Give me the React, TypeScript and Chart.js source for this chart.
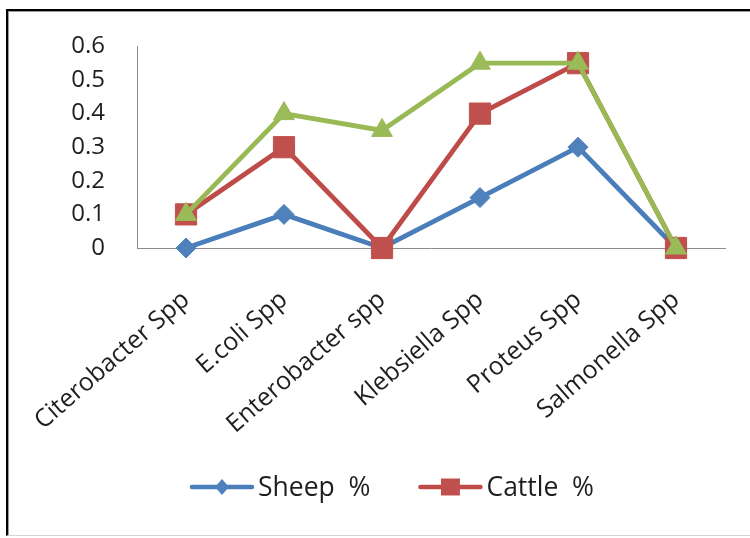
import React, { useEffect, useRef } from 'react';
import { Chart, registerables } from 'chart.js';

Chart.register(...registerables);

const categories = ['Citerobacter Spp', 'E.coli Spp', 'Enterobacter spp', 'Klebsiella Spp', 'Proteus Spp', 'Salmonella Spp'];
const sheepValues = [0, 0.1, 0, 0.15, 0.3, 0];
const cattleValues = [0.1, 0.3, 0, 0.4, 0.55, 0];
const thirdValues = [0.1, 0.4, 0.35, 0.55, 0.55, 0];
const seriesLabels = ['Sheep  %', 'Cattle  %', ''];
const yTickLabels = ['0', '0.1', '0.2', '0.3', '0.4', '0.5', '0.6'];

const FONT = '"Open Sans", "Noto Sans", sans-serif';
const TEXT = '#1e1e1e';

const legendPlugin = {
  id: 'customLegend',
  afterDraw(chart: any) {
    const ctx = chart.ctx as CanvasRenderingContext2D;
    const ds = chart.data.datasets.slice(0, 2);
    ctx.save();
    ctx.font = `26.5px ${FONT}`;
    const lineLen = 64;
    const gapText = 4;
    const gapItems = 48;
    const widths = ds.map((d: any) => lineLen + gapText + ctx.measureText(d.label).width);
    const total = widths.reduce((a: number, b: number) => a + b, 0) + gapItems * (ds.length - 1);
    let x = 392 - total / 2;
    const y = 487;
    ds.forEach((d: any, i: number) => {
      ctx.strokeStyle = d.borderColor;
      ctx.lineWidth = 4.5;
      ctx.lineCap = 'round';
      ctx.beginPath();
      ctx.moveTo(x + 2, y);
      ctx.lineTo(x + lineLen - 2, y);
      ctx.stroke();
      const cx = x + lineLen / 2;
      ctx.fillStyle = d.pointBackgroundColor;
      ctx.beginPath();
      if (d.pointStyle === 'rectRot') {
        ctx.moveTo(cx, y - 8);
        ctx.lineTo(cx + 7, y);
        ctx.lineTo(cx, y + 8);
        ctx.lineTo(cx - 7, y);
        ctx.closePath();
      } else {
        ctx.rect(cx - 9.5, y - 8.5, 19, 17);
      }
      ctx.fill();
      ctx.fillStyle = TEXT;
      ctx.textBaseline = 'middle';
      ctx.textAlign = 'left';
      ctx.fillText(d.label, x + lineLen + gapText, y + 1);
      x += widths[i] + gapItems;
    });
    ctx.restore();
  },
};

export default function App() {
  const canvasRef = useRef<HTMLCanvasElement | null>(null);

  useEffect(() => {
    if (!canvasRef.current) return;
    const chart = new Chart(canvasRef.current, {
      type: 'line',
      data: {
        labels: categories,
        datasets: [
          {
            label: seriesLabels[0],
            data: sheepValues,
            borderColor: '#4A7EBB',
            backgroundColor: '#4F81BD',
            pointBackgroundColor: '#4F81BD',
            pointBorderColor: '#4F81BD',
            pointStyle: 'rectRot',
            pointRadius: 10,
            pointBorderWidth: 1,
            borderWidth: 4.8,
            tension: 0,
            clip: false,
            order: 3,
          },
          {
            label: seriesLabels[1],
            data: cattleValues,
            borderColor: '#BE4B48',
            backgroundColor: '#C0504D',
            pointBackgroundColor: '#C0504D',
            pointBorderColor: '#C0504D',
            pointStyle: 'rect',
            pointRadius: 15,
            pointBorderWidth: 1,
            borderWidth: 4.8,
            tension: 0,
            clip: false,
            order: 2,
          },
          {
            label: seriesLabels[2],
            data: thirdValues,
            borderColor: '#98B954',
            backgroundColor: '#9BBB59',
            pointBackgroundColor: '#9BBB59',
            pointBorderColor: '#9BBB59',
            pointStyle: 'triangle',
            pointRadius: 12,
            pointBorderWidth: 1,
            borderWidth: 4.8,
            tension: 0,
            clip: false,
            order: 1,
          },
        ],
      },
      options: {
        animation: false,
        responsive: false,
        events: [],
        layout: { padding: { top: 44, right: 25, left: 0, bottom: 0 } },
        plugins: {
          legend: { display: false },
          tooltip: { enabled: false },
        },
        scales: {
          x: {
            offset: true,
            grid: { display: false, drawTicks: false },
            border: { display: true, color: '#8c8c8c', width: 1 },
            ticks: {
              autoSkip: false,
              maxRotation: 41,
              minRotation: 41,
              padding: 37,
              color: TEXT,
              font: { family: FONT, size: 25 },
            },
            afterFit: (s: any) => {
              s.height = 290;
              s.paddingLeft = 0;
              s.paddingRight = 0;
            },
          },
          y: {
            min: 0,
            max: 0.6,
            grid: { display: false, drawTicks: false },
            border: { display: true, color: '#8c8c8c', width: 1 },
            ticks: {
              stepSize: 0.1,
              padding: 32,
              color: TEXT,
              font: { family: FONT, size: 24 },
              callback: (_v: any, i: number) => yTickLabels[i],
            },
            afterFit: (s: any) => {
              s.width = 137;
            },
          },
        },
      },
      plugins: [legendPlugin],
    });
    return () => chart.destroy();
  }, []);

  return (
    <div style={{ position: 'fixed', left: 0, top: 0, width: 750, height: 538, background: '#fff', overflow: 'hidden' }}>
      <div
        style={{
          position: 'absolute',
          left: 6,
          top: 9,
          right: 0,
          bottom: 2,
          borderTop: '2px solid #000',
          borderLeft: '2px solid #000',
          borderBottom: '1px solid #d4d4d4',
          boxShadow: 'inset 1px 1px 0 #9a9a9a',
        }}
      />
      <canvas ref={canvasRef} width={750} height={538} style={{ position: 'absolute', left: 0, top: 0 }} />
    </div>
  );
}
